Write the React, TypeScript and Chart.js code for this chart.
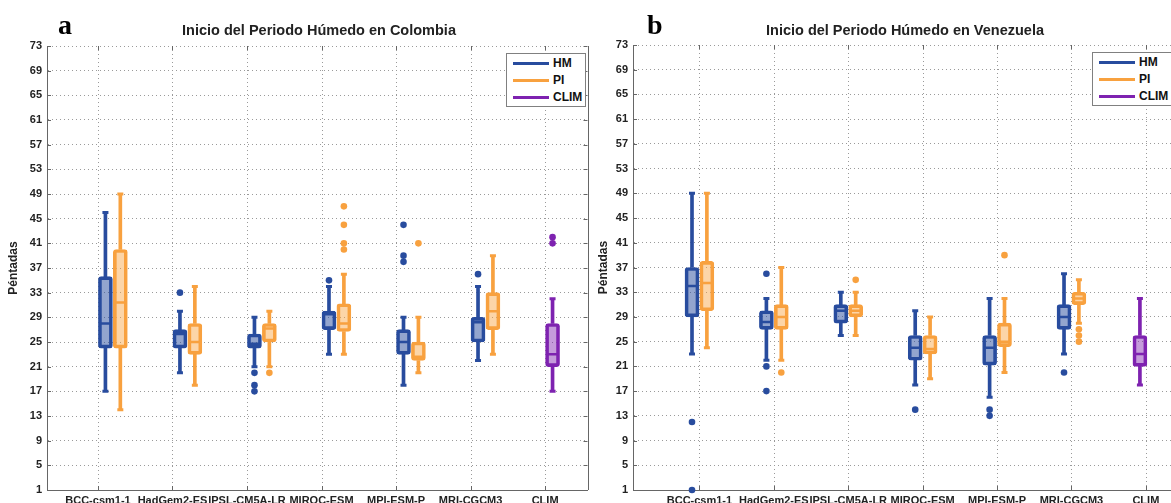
import React, { useEffect, useRef } from "react";
import { Chart, registerables } from "chart.js";

Chart.register(...registerables);

// ---------- data ----------
const CATEGORIES = ["BCC-csm1-1", "HadGem2-ES", "IPSL-CM5A-LR", "MIROC-ESM", "MPI-ESM-P", "MRI-CGCM3", "CLIM"];
const Y_TICKS = [1, 5, 9, 13, 17, 21, 25, 29, 33, 37, 41, 45, 49, 53, 57, 61, 65, 69, 73];
const SERIES_NAMES = ["HM", "PI", "CLIM"];
const TITLE_COL = "Inicio del Periodo Húmedo en Colombia";
const TITLE_VEN = "Inicio del Periodo Húmedo en Venezuela";
const Y_TITLE = "Péntadas";

// stats per model: [lower whisker, Q1, median, Q3, upper whisker]
const COL_HM = [
  [17, 24, 28, 35.6, 46],
  [20, 24, 26.3, 27, 30],
  [21, 24, 24.7, 26.3, 29],
  [23, 27, 29.5, 30, 34],
  [18, 23, 25, 27, 29],
  [22, 25, 28.2, 29, 34],
];
const COL_HM_OUT = [[], [33], [20, 18, 17], [35], [44, 39, 38], [36]];
const COL_PI = [
  [14, 24, 31.4, 40, 49],
  [18, 23, 25, 28, 34],
  [21, 25, 27.2, 28, 30],
  [23, 26.7, 28, 31.2, 36],
  [20, 22, 22.6, 25, 29],
  [23, 27, 30, 33, 39],
];
const COL_PI_OUT = [[], [], [20], [47, 44, 41, 40], [41], []];
const COL_CLIM = [[17, 21, 23, 28, 32]];
const COL_CLIM_OUT = [[42, 41]];

const VEN_HM = [
  [23, 29, 34, 37, 49],
  [22, 27, 28.2, 30, 32],
  [26, 28, 30, 31, 33],
  [18, 22, 24, 26, 30],
  [16, 21.2, 24, 26, 32],
  [23, 27, 29, 31, 36],
];
const VEN_HM_OUT = [[12, 1], [36, 21, 17], [], [14], [14, 13], [20]];
const VEN_PI = [
  [24, 30, 34.5, 38, 49],
  [22, 27, 29, 31, 37],
  [26, 29, 30, 31, 33],
  [19, 23, 23.8, 26, 29],
  [20, 24.2, 25, 28, 32],
  [28, 31, 32, 33, 35],
];
const VEN_PI_OUT = [[], [20], [35], [], [39], [27, 26, 25]];
const VEN_CLIM = [[18, 21, 23, 26, 32]];
const VEN_CLIM_OUT = [[]];

// ---------- style ----------
const FONT = "'Liberation Sans', Arial, sans-serif";
const TEXT = "#222";
const AXIS = "#666";
const GRID = "#9a9a9a";
const COLORS = {
  HM: { stroke: "#284c9e", fill: "rgba(40,76,158,0.5)" },
  PI: { stroke: "#f8a13f", fill: "rgba(248,161,63,0.45)" },
  CLIM: { stroke: "#7e22b0", fill: "rgba(126,34,176,0.45)" },
};

function buildSeries(c: { stroke: string; fill: string }, xs: number[], stats: number[][], outs: number[][]) {
  const whiskers: any[] = [];
  const boxes: any[] = [];
  const medians: any[] = [];
  const caps: any[] = [];
  const points: any[] = [];
  stats.forEach((s, i) => {
    const x = xs[i];
    whiskers.push({ x, y: [s[0], s[1]] }, { x, y: [s[3], s[4]] });
    boxes.push({ x, y: [s[1], s[3]] });
    medians.push({ x, y: s[2] });
    caps.push({ x, y: s[0] }, { x, y: s[4] });
    (outs[i] || []).forEach((v) => points.push({ x, y: v }));
  });
  return [
    { type: "bar", data: whiskers, backgroundColor: c.stroke, borderWidth: 0, barThickness: 3, grouped: false, order: 5 },
    {
      type: "bar", data: boxes, backgroundColor: c.fill, borderColor: c.stroke, borderWidth: 3,
      borderRadius: 3, borderSkipped: false, barThickness: 14, grouped: false, order: 4,
    },
    { type: "scatter", data: medians, pointStyle: "line", pointRadius: 5, pointBorderColor: c.stroke, pointBorderWidth: 2.5, order: 3 },
    { type: "scatter", data: caps, pointStyle: "line", pointRadius: 3, pointBorderColor: c.stroke, pointBorderWidth: 3, order: 3 },
    {
      type: "scatter", data: points, pointStyle: "circle", pointRadius: 3.3, pointBackgroundColor: c.stroke,
      pointBorderColor: c.stroke, pointBorderWidth: 0, order: 1, clip: false,
    },
  ];
}

// dotted category grid lines, right frame and inward tick marks, placed with the chart's scales
const framePlugin = {
  id: "frame",
  beforeDatasetsDraw(chart: any) {
    const { ctx, chartArea: a, scales } = chart;
    const x = scales.x;
    const y = scales.y;
    ctx.save();
    ctx.strokeStyle = GRID;
    ctx.lineWidth = 1;
    ctx.setLineDash([1, 3]);
    ctx.beginPath();
    CATEGORIES.forEach((_, i) => {
      const px = Math.round(x.getPixelForValue(i)) + 0.5;
      ctx.moveTo(px, a.top);
      ctx.lineTo(px, a.bottom);
    });
    ctx.stroke();
    ctx.setLineDash([]);
    ctx.strokeStyle = AXIS;
    ctx.beginPath();
    ctx.moveTo(Math.round(a.right) + 0.5, a.top);
    ctx.lineTo(Math.round(a.right) + 0.5, a.bottom);
    Y_TICKS.forEach((v) => {
      const py = Math.round(y.getPixelForValue(v)) + 0.5;
      ctx.moveTo(a.left, py);
      ctx.lineTo(a.left + 4, py);
      ctx.moveTo(a.right - 4, py);
      ctx.lineTo(a.right, py);
    });
    CATEGORIES.forEach((_, i) => {
      const px = Math.round(x.getPixelForValue(i)) + 0.5;
      ctx.moveTo(px, a.bottom);
      ctx.lineTo(px, a.bottom - 4);
      ctx.moveTo(px, a.top);
      ctx.lineTo(px, a.top + 4);
    });
    ctx.stroke();
    ctx.restore();
  },
};

function makeConfig(opts: {
  datasets: any[]; xMin: number; xMax: number; yWidth: number; top: number; right: number;
}): any {
  const tickFont = { family: FONT, size: 11, weight: "bold" as const };
  return {
    type: "bar",
    data: { datasets: opts.datasets },
    plugins: [framePlugin],
    options: {
      animation: false,
      responsive: false,
      devicePixelRatio: 1,
      layout: { padding: { left: 0, top: opts.top, right: opts.right, bottom: 0 } },
      plugins: { legend: { display: false }, tooltip: { enabled: false }, title: { display: false } },
      scales: {
        x: {
          type: "linear",
          min: opts.xMin,
          max: opts.xMax,
          offset: false,
          afterBuildTicks: (s: any) => { s.ticks = CATEGORIES.map((_, i) => ({ value: i })); },
          afterFit: (s: any) => { s.height = 503 - 490; },
          ticks: {
            autoSkip: false, maxRotation: 0, minRotation: 0, padding: 4, color: TEXT, font: tickFont,
            callback: (v: any) => CATEGORIES[v] ?? "",
          },
          grid: { display: true, drawOnChartArea: false, drawTicks: false, offset: false, color: GRID },
          border: { display: true, color: AXIS, width: 1 },
        },
        y: {
          type: "linear",
          min: 1,
          max: 73,
          afterBuildTicks: (s: any) => { s.ticks = Y_TICKS.map((v) => ({ value: v })); },
          afterFit: (s: any) => { s.width = opts.yWidth; },
          ticks: { padding: 5, color: TEXT, font: tickFont },
          grid: { color: GRID, lineWidth: 1, drawTicks: false, offset: false },
          border: { display: true, color: AXIS, width: 1, dash: [1, 3] },
          title: {
            display: true, text: Y_TITLE, color: TEXT,
            font: { family: FONT, size: 12, weight: "bold" }, padding: { top: 6, bottom: 0 },
          },
        },
      },
    },
  };
}

function Legend({ left, top, width }: { left: number; top: number; width: number }) {
  const items = SERIES_NAMES.map((n) => ({ n, c: (COLORS as any)[n].stroke }));
  return (
    <div
      style={{
        position: "absolute", left, top, width, height: 54, boxSizing: "border-box",
        border: "1px solid #808080", background: "#fff",
      }}
    >
      {items.map((it, i) => (
        <div key={it.n} style={{ position: "absolute", left: 6, top: 9 + i * 17 - 1, height: 3, width: 36, background: it.c }} />
      ))}
      {items.map((it, i) => (
        <div
          key={it.n + "t"}
          style={{
            position: "absolute", left: 46, top: 9 + i * 17 - 7, lineHeight: "14px", fontFamily: FONT,
            fontWeight: "bold", fontSize: 12, color: "#111",
          }}
        >
          {it.n}
        </div>
      ))}
    </div>
  );
}

export default function App() {
  const leftRef = useRef<HTMLCanvasElement>(null);
  const rightRef = useRef<HTMLCanvasElement>(null);

  useEffect(() => {
    const idx = COL_HM.map((_, i) => i);
    const colDatasets = [
      ...buildSeries(COLORS.HM, idx.map((i) => i + 0.1), COL_HM, COL_HM_OUT),
      ...buildSeries(COLORS.PI, idx.map((i) => i + 0.3), COL_PI, COL_PI_OUT),
      ...buildSeries(COLORS.CLIM, [6.1], COL_CLIM, COL_CLIM_OUT),
    ];
    const venDatasets = [
      ...buildSeries(COLORS.HM, idx.map((i) => i - 0.1), VEN_HM, VEN_HM_OUT),
      ...buildSeries(COLORS.PI, idx.map((i) => i + 0.1), VEN_PI, VEN_PI_OUT),
      ...buildSeries(COLORS.CLIM, [5.92], VEN_CLIM, VEN_CLIM_OUT),
    ];
    const c1 = new Chart(leftRef.current as HTMLCanvasElement, makeConfig({
      datasets: colDatasets, xMin: -0.684, xMax: 6.569, yWidth: 47, top: 46, right: 4,
    }));
    const c2 = new Chart(rightRef.current as HTMLCanvasElement, makeConfig({
      datasets: venDatasets, xMin: -0.893, xMax: 6.573, yWidth: 43, top: 45, right: 3,
    }));
    return () => { c1.destroy(); c2.destroy(); };
  }, []);

  const titleStyle = (cx: number): React.CSSProperties => ({
    position: "absolute", left: cx - 250, width: 500, top: 22, textAlign: "center", lineHeight: "16px",
    fontFamily: FONT, fontWeight: "bold", fontSize: 14.5, color: TEXT, whiteSpace: "nowrap",
  });
  const letterStyle = (x: number): React.CSSProperties => ({
    position: "absolute", left: x, top: 10, lineHeight: "30px", fontFamily: "'Liberation Serif', 'Times New Roman', serif",
    fontWeight: "bold", fontSize: 28, color: "#000",
  });

  return (
    <div style={{ position: "fixed", left: 0, top: 0, width: 1171, height: 503, overflow: "hidden", background: "#fff" }}>
      <canvas ref={leftRef} width={595} height={503} style={{ position: "absolute", left: 0, top: 0 }} />
      <canvas ref={rightRef} width={606} height={503} style={{ position: "absolute", left: 590, top: 0 }} />
      <div style={letterStyle(58)}>a</div>
      <div style={letterStyle(647)}>b</div>
      <div style={titleStyle(319)}>{TITLE_COL}</div>
      <div style={titleStyle(905)}>{TITLE_VEN}</div>
      <Legend left={506} top={53} width={80} />
      <Legend left={1092} top={52} width={95} />
    </div>
  );
}
